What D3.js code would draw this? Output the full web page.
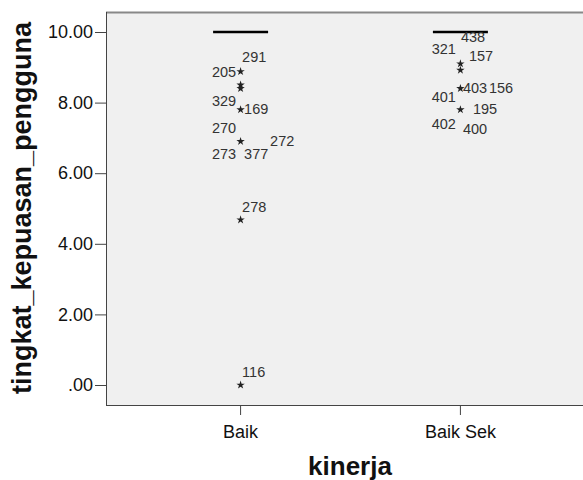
<!DOCTYPE html>
<html>
<head>
<meta charset="utf-8">
<script src="https://cdn.jsdelivr.net/npm/d3@7"></script>
<style>
  body { margin: 0; background: #fff; }
  text { font-family: Arial, "Liberation Sans", sans-serif; }
</style>
</head>
<body>
<div id="chart"></div>
<script>
const categories = ["Baik", "Baik Sek"];
const medians = [10, 10];
const yTicks = [0, 2, 4, 6, 8, 10];

// extreme cases (asterisks) per group
const baikOutliers = [8.88, 8.50, 8.40, 7.80, 6.90, 4.68, 0];
const baikSekOutliers = [9.10, 8.92, 8.40, 7.80];

// case labels: group, value of the case, case number
const caseGroups = ["Baik", "Baik", "Baik", "Baik", "Baik", "Baik", "Baik", "Baik", "Baik", "Baik",
  "Baik Sek", "Baik Sek", "Baik Sek", "Baik Sek", "Baik Sek", "Baik Sek", "Baik Sek", "Baik Sek", "Baik Sek"];
const caseValues = [8.88, 8.88, 7.80, 7.80, 6.90, 6.90, 6.90, 6.90, 4.68, 0,
  9.10, 9.10, 9.10, 8.40, 8.40, 8.40, 7.80, 7.80, 7.80];
const caseIds = ["291", "205", "329", "169", "270", "273", "377", "272", "278", "116",
  "438", "321", "157", "401", "403", "156", "195", "402", "400"];

// label placement around the asterisk (dx, dy, anchor) - layout only
const labelPlace = [
  [2, -10, "start"], [-4, 5, "end"], [-4, -4, "end"], [4, 4, "start"],
  [-4, -8, "end"], [-4, 18, "end"], [4, 18, "start"], [30, 5, "start"],
  [2, -8, "start"], [2, -8, "start"],
  [1, -22, "start"], [-4, -10, "end"], [9, -3, "start"],
  [-4, 14, "end"], [3, 5, "start"], [29, 5, "start"],
  [13, 4, "start"], [-4, 19, "end"], [3, 24, "start"]
];

const width = 583, height = 480;
const plotLeft = 106, plotRight = 594, plotTop = 12, plotBottom = 405;

const svg = d3.select("#chart").append("svg")
  .attr("width", width)
  .attr("height", height);

svg.append("rect").attr("width", width).attr("height", height).attr("fill", "#fff");

const x = d3.scalePoint().domain(categories).range([plotLeft, plotRight]).padding(0.61);
const y = d3.scaleLinear().domain([0, 10]).range([385, 32]);

// plot area
svg.append("rect")
  .attr("x", plotLeft).attr("y", plotTop)
  .attr("width", plotRight - plotLeft).attr("height", plotBottom - plotTop)
  .attr("fill", "#f0f0f0");
svg.append("line").attr("x1", plotLeft).attr("x2", plotRight).attr("y1", plotTop + 0.5).attr("y2", plotTop + 0.5)
  .attr("stroke", "#888").attr("stroke-width", 2);
svg.append("line").attr("x1", plotLeft + 0.5).attr("x2", plotLeft + 0.5).attr("y1", plotTop).attr("y2", plotBottom)
  .attr("stroke", "#444");
svg.append("line").attr("x1", plotLeft).attr("x2", plotRight).attr("y1", plotBottom + 0.5).attr("y2", plotBottom + 0.5)
  .attr("stroke", "#444");

// y axis
const yAxis = d3.axisLeft(y)
  .tickValues(yTicks)
  .tickSize(11)
  .tickPadding(2)
  .tickFormat(d => d === 0 ? ".00" : d3.format(".2f")(d));
const gy = svg.append("g").attr("transform", `translate(${plotLeft},0)`).call(yAxis);
gy.select(".domain").remove();
gy.selectAll("line").attr("stroke", "#444");
gy.selectAll("text").attr("font-size", "18px").attr("fill", "#111")
  .attr("font-family", "Arial, 'Liberation Sans', sans-serif");

// x axis
const xAxis = d3.axisBottom(x).tickSize(10).tickPadding(10);
const gx = svg.append("g").attr("transform", `translate(0,${plotBottom})`).call(xAxis);
gx.select(".domain").remove();
gx.selectAll("line").attr("stroke", "#444");
gx.selectAll("text").attr("font-size", "18px").attr("fill", "#111")
  .attr("font-family", "Arial, 'Liberation Sans', sans-serif");

// collapsed boxes (median line)
svg.selectAll(".median")
  .data(categories)
  .enter()
  .append("line")
  .attr("x1", d => x(d) - 27)
  .attr("x2", d => x(d) + 28)
  .attr("y1", (d, i) => y(medians[i]))
  .attr("y2", (d, i) => y(medians[i]))
  .attr("stroke", "#000")
  .attr("stroke-width", 2.5);

// asterisks
const pts = baikOutliers.map(v => ({ g: "Baik", v }))
  .concat(baikSekOutliers.map(v => ({ g: "Baik Sek", v })));
const star = d3.symbol().type(d3.symbolStar).size(22);
svg.selectAll(".pt")
  .data(pts)
  .enter()
  .append("path")
  .attr("d", star)
  .attr("transform", d => `translate(${x(d.g) + 0.5},${y(d.v)})`)
  .attr("fill", "#222");

// case labels
svg.selectAll(".lbl")
  .data(caseIds)
  .enter()
  .append("text")
  .attr("x", (d, i) => x(caseGroups[i]) + labelPlace[i][0])
  .attr("y", (d, i) => y(caseValues[i]) + labelPlace[i][1])
  .attr("text-anchor", (d, i) => labelPlace[i][2])
  .attr("font-size", "14.5px")
  .attr("fill", "#333")
  .text(d => d);

// axis titles
svg.append("text")
  .attr("transform", `translate(31,208) rotate(-90)`)
  .attr("text-anchor", "middle")
  .attr("font-size", "27px")
  .attr("font-weight", "bold")
  .attr("fill", "#111")
  .text("tingkat_kepuasan_pengguna");

svg.append("text")
  .attr("x", (plotLeft + plotRight) / 2)
  .attr("y", 475)
  .attr("text-anchor", "middle")
  .attr("font-size", "26px")
  .attr("font-weight", "bold")
  .attr("fill", "#111")
  .text("kinerja");
</script>
</body>
</html>
